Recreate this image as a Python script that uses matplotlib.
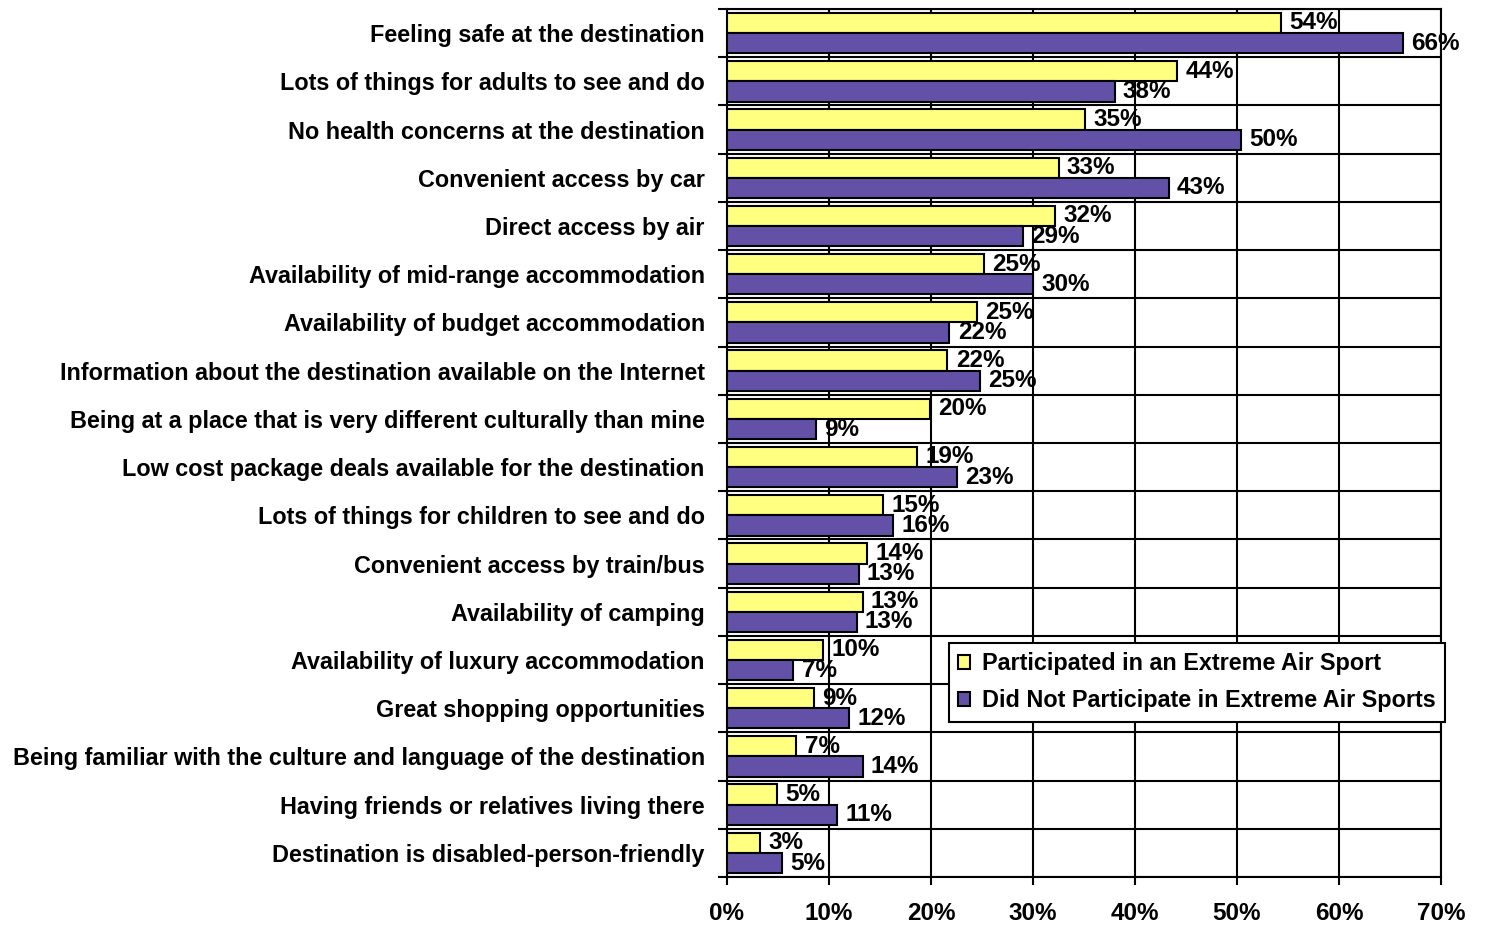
import numpy as np
import matplotlib
matplotlib.use("Agg")
import matplotlib.pyplot as plt
from matplotlib.patches import Patch

# ------------------ DATA -------------------------#
categories = [
    "Feeling safe at the destination",
    "Lots of things for adults to see and do",
    "No health concerns at the destination",
    "Convenient access by car",
    "Direct access by air",
    "Availability of mid-range accommodation",
    "Availability of budget accommodation",
    "Information about the destination available on the Internet",
    "Being at a place that is very different culturally than mine",
    "Low cost package deals available for the destination",
    "Lots of things for children to see and do",
    "Convenient access by train/bus",
    "Availability of camping",
    "Availability of luxury accommodation",
    "Great shopping opportunities",
    "Being familiar with the culture and language of the destination",
    "Having friends or relatives living there",
    "Destination is disabled-person-friendly",
]

# bar lengths (%)
participated = [54.3, 44.1, 35.1, 32.5, 32.2, 25.2, 24.5, 21.6, 19.9, 18.6,
                15.3, 13.7, 13.3, 9.4, 8.5, 6.8, 4.9, 3.2]
not_participated = [66.3, 38.0, 50.4, 43.3, 29.0, 30.0, 21.8, 24.8, 8.7, 22.5,
                    16.3, 12.9, 12.7, 6.5, 12.0, 13.3, 10.8, 5.4]

# printed data labels
participated_labels = [54, 44, 35, 33, 32, 25, 25, 22, 20, 19, 15, 14, 13, 10, 9, 7, 5, 3]
not_participated_labels = [66, 38, 50, 43, 29, 30, 22, 25, 9, 23, 16, 13, 13, 7, 12, 14, 11, 5]

series_names = ["Participated in an Extreme Air Sport",
                "Did Not Participate in Extreme Air Sports"]
colors = ["#FFFF80", "#6351A8"]

x_ticks = [0, 10, 20, 30, 40, 50, 60, 70]

# ------------------ PLOT -------------------------#
plt.rcParams['font.family'] = ['Liberation Sans', 'DejaVu Sans']
plt.rcParams['font.weight'] = 'bold'

fig = plt.figure(figsize=(14.87, 9.26), dpi=100)
ax = fig.add_axes([727/1487, 1 - 877/926, (1441 - 727)/1487, (877 - 9)/926])

n = len(categories)
idx = np.arange(n)
bar_h = 0.42

ax.barh(idx + 0.5 - bar_h/2, participated, height=bar_h, color=colors[0],
        edgecolor="black", linewidth=1.5, zorder=3)
ax.barh(idx + 0.5 + bar_h/2, not_participated, height=bar_h, color=colors[1],
        edgecolor="black", linewidth=1.5, zorder=3)

for i in range(n):
    ax.annotate(f"{participated_labels[i]}%", (participated[i], i + 0.5 - bar_h/2),
                xytext=(6, 0), textcoords="offset points", va="center", ha="left",
                fontsize=17.5, fontweight="bold", zorder=4)
    ax.annotate(f"{not_participated_labels[i]}%", (not_participated[i], i + 0.5 + bar_h/2),
                xytext=(6, 0), textcoords="offset points", va="center", ha="left",
                fontsize=17.5, fontweight="bold", zorder=4)

ax.set_xlim(0, 70)
ax.set_ylim(n, 0)

ax.set_xticks(x_ticks)
ax.set_xticklabels([f"{t}%" for t in x_ticks], fontsize=17.5, fontweight="bold")
ax.set_yticks(np.arange(n + 1))
ax.set_yticklabels([])
ax.set_yticks(idx + 0.5, minor=True)
ax.set_yticklabels(categories, minor=True, fontsize=16.8, fontweight="bold")

ax.tick_params(axis="y", which="major", length=6.5, width=1.5, direction="out")
ax.tick_params(axis="y", which="minor", length=0, pad=16)
ax.tick_params(axis="x", length=6, width=1.5, direction="out", pad=12)

ax.grid(True, axis="x", color="black", linewidth=1.5, zorder=0)
ax.grid(True, axis="y", which="major", color="black", linewidth=1.5, zorder=0)
ax.set_axisbelow(True)
for s in ax.spines.values():
    s.set_linewidth(1.5)

handles = [Patch(facecolor=colors[0], edgecolor="black", linewidth=1.5),
           Patch(facecolor=colors[1], edgecolor="black", linewidth=1.5)]
leg = fig.legend(handles, series_names, loc="upper left",
                 bbox_to_anchor=(949/1487, 1 - 643/926), fontsize=16.8,
                 frameon=True, fancybox=False, edgecolor="black", framealpha=1,
                 handlelength=0.5, handleheight=0.55, handletextpad=0.5,
                 borderpad=0.4, labelspacing=0.6, borderaxespad=0)
leg.get_frame().set_linewidth(1.5)
for t in leg.get_texts():
    t.set_fontweight("bold")

fig.savefig("out.png", dpi=100)
